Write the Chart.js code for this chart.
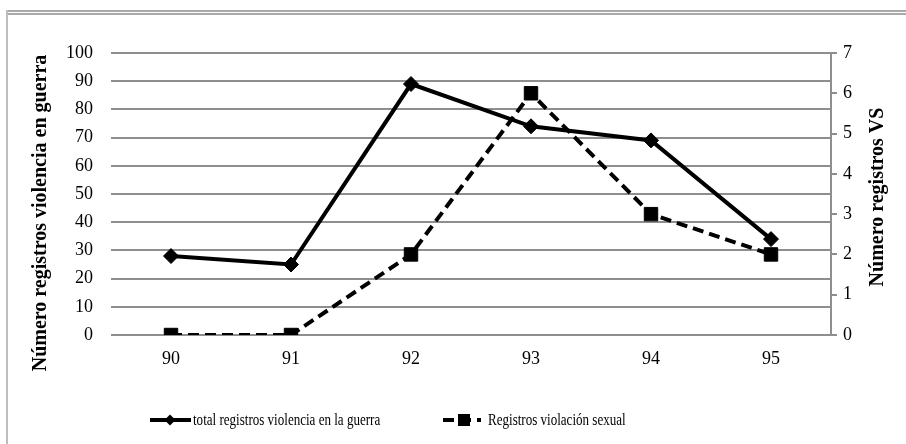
<!DOCTYPE html>
<html>
<head>
<meta charset="utf-8">
<script src="https://cdn.jsdelivr.net/npm/chart.js@4/dist/chart.umd.min.js"></script>
<style>
  html, body { margin: 0; padding: 0; background: #fff; }
  #wrap { position: relative; width: 906px; height: 444px; overflow: hidden; }
  .rule { position: absolute; left: 6px; right: 0; height: 2px; background: #a9a9a9; }
  #side { position: absolute; left: 6px; top: 10px; bottom: 0; width: 2px; background: #bdbdbd; }
  canvas { position: absolute; left: 0; top: 0; }
</style>
</head>
<body>
<div id="wrap">
  <div class="rule" style="top:10px"></div>
  <div class="rule" style="top:13px"></div>
  <div id="side"></div>
  <canvas id="myChart" width="906" height="444"></canvas>
</div>
<script>
'use strict';
// data

let years = ['90', '91', '92', '93', '94', '95'];
let totalRegistros = [28, 25, 89, 74, 69, 34];
let registrosVS = [0, 0, 2, 6, 3, 2];
let leftTicks = [0, 10, 20, 30, 40, 50, 60, 70, 80, 90, 100];
let rightTicks = [0, 1, 2, 3, 4, 5, 6, 7];

let totalLabel = 'total registros violencia en la guerra';
let vsLabel = 'Registros violación sexual';
let leftTitle = 'Número registros violencia en guerra';
let rightTitle = 'Número registros VS';

const serif = 'Liberation Serif';

function drawDiamond(ctx, x, y, r){
  ctx.beginPath();
  ctx.moveTo(x, y - r);
  ctx.lineTo(x + r, y);
  ctx.lineTo(x, y + r);
  ctx.lineTo(x - r, y);
  ctx.closePath();
  ctx.fill();
}

// axis titles (both read bottom to top) and the legend row
const extras = {
  id: 'extras',
  afterDraw(chart){
    let ctx = chart.ctx;
    ctx.save();
    ctx.fillStyle = '#000';
    ctx.textAlign = 'center';
    ctx.textBaseline = 'middle';
    ctx.font = 'bold 20px "' + serif + '"';

    ctx.save();
    ctx.translate(41, 213);
    ctx.rotate(-Math.PI / 2);
    ctx.fillText(leftTitle, 0, 0);
    ctx.restore();

    ctx.save();
    ctx.translate(878, 197);
    ctx.rotate(-Math.PI / 2);
    ctx.fillText(rightTitle, 0, 0);
    ctx.restore();

    let ly = 420;
    ctx.strokeStyle = '#000';
    ctx.lineWidth = 4;
    ctx.beginPath();
    ctx.moveTo(150, ly);
    ctx.lineTo(191, ly);
    ctx.stroke();
    drawDiamond(ctx, 170, ly, 5.5);

    ctx.setLineDash([11, 6]);
    ctx.beginPath();
    ctx.moveTo(443, ly);
    ctx.lineTo(481, ly);
    ctx.stroke();
    ctx.setLineDash([]);
    ctx.fillRect(458, ly - 6, 12, 12);

    ctx.font = '16px "' + serif + '"';
    ctx.textAlign = 'left';
    ctx.save();
    ctx.translate(193, ly + 1);
    ctx.scale(0.815, 1);
    ctx.fillText(totalLabel, 0, 0);
    ctx.restore();
    ctx.save();
    ctx.translate(488, ly + 1);
    ctx.scale(0.815, 1);
    ctx.fillText(vsLabel, 0, 0);
    ctx.restore();

    ctx.restore();
  }
};

const data = {
  labels: years,
  datasets: [{
    label: totalLabel,
    data: totalRegistros,
    yAxisID: 'y',
    borderColor: '#000',
    backgroundColor: '#000',
    borderWidth: 4,
    pointStyle: 'rectRot',
    pointRadius: 7.5,
    pointBorderWidth: 1,
    tension: 0
  },
  {
    label: vsLabel,
    data: registrosVS,
    yAxisID: 'y1',
    borderColor: '#000',
    backgroundColor: '#000',
    borderWidth: 4,
    borderDash: [11, 6],
    pointStyle: 'rect',
    pointRadius: 9.5,
    pointBorderWidth: 1,
    tension: 0
  }]
};

const config = {
  type: 'line',
  data: data,
  options: {
    responsive: false,
    animation: false,
    layout: { padding: { top: 53, left: 0, right: 0, bottom: 0 } },
    plugins: {
      legend: { display: false },
      tooltip: { enabled: false }
    },
    scales: {
      x: {
        offset: true,
        grid: { display: false },
        border: { display: false },
        ticks: { color: '#000', font: { family: serif, size: 18 }, padding: 5 },
        afterFit(scale){ scale.height = 109; }
      },
      y: {
        position: 'left',
        min: leftTicks[0],
        max: leftTicks[leftTicks.length - 1],
        afterBuildTicks(scale){ scale.ticks = leftTicks.map(v => ({ value: v })); },
        grid: { color: '#8e8e8e', lineWidth: 2, drawTicks: false },
        border: { display: false },
        ticks: { color: '#000', font: { family: serif, size: 18 }, padding: 18 },
        afterFit(scale){ scale.width = 111; }
      },
      y1: {
        position: 'right',
        min: rightTicks[0],
        max: rightTicks[rightTicks.length - 1],
        afterBuildTicks(scale){ scale.ticks = rightTicks.map(v => ({ value: v })); },
        grid: { drawOnChartArea: false, drawTicks: true, tickLength: 6, color: '#8e8e8e', lineWidth: 2 },
        border: { display: true, color: '#8e8e8e', width: 2 },
        ticks: { color: '#000', font: { family: serif, size: 18 }, padding: 6 },
        afterFit(scale){ scale.width = 75; }
      }
    }
  },
  plugins: [extras]
};

const chart = document.getElementById('myChart');
const myChart = new Chart(chart, config);
</script>
</body>
</html>
